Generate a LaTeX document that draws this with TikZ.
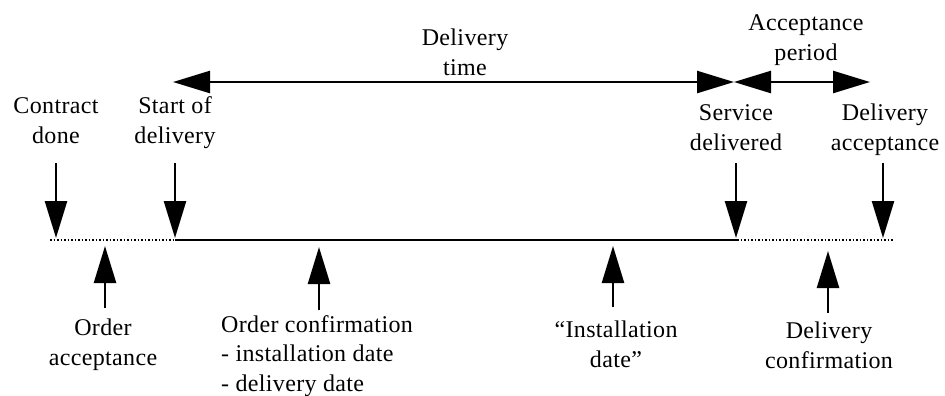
\documentclass[tikz,border=0pt]{standalone}
\usepackage{fontspec}
\setmainfont{Liberation Serif}[LetterSpace=1.5]
\usetikzlibrary{arrows.meta}
\begin{document}
\begin{tikzpicture}[x=1bp,y=-1bp,
  lbl/.style={font=\fontsize{24bp}{29.5bp}\selectfont, align=center, anchor=base, inner sep=0pt},
  lbll/.style={lbl, align=left, anchor=base west},
  ptr/.style={-{Triangle[length=37bp,width=22bp]}, line width=2.5bp},
  span/.style={{Triangle[length=37bp,width=22bp]}-{Triangle[length=37bp,width=22bp]}, line width=2.5bp},
  solidline/.style={line width=2.8bp},
  dotline/.style={line width=2bp, dash pattern=on 1.5bp off 2bp}]
\useasboundingbox (0,0) rectangle (945,395);

% timeline points
\coordinate (t0) at (50,240);
\coordinate (t1) at (175,240);
\coordinate (t2) at (737,240);
\coordinate (t3) at (893,240);
\draw[dotline] (t0) -- (t1);
\draw[solidline] (t1) -- (t2);
\draw[dotline] (t2) -- (t3);

% span arrows
\coordinate (sL) at (173,82);
\coordinate (sM) at (734,82);
\coordinate (sR) at (870,82);
\draw[span] (sL) -- (sM);
\draw[span] (sM) -- (sR);

% down arrows
\coordinate (dAs) at (56,163);  \coordinate (dAe) at (56,238);
\coordinate (dBs) at (175,163); \coordinate (dBe) at (175,238);
\coordinate (dCs) at (736,163); \coordinate (dCe) at (736,238);
\coordinate (dDs) at (883,163); \coordinate (dDe) at (883,238);
\draw[ptr] (dAs) -- (dAe);
\draw[ptr] (dBs) -- (dBe);
\draw[ptr] (dCs) -- (dCe);
\draw[ptr] (dDs) -- (dDe);

% up arrows
\coordinate (uAs) at (105,308); \coordinate (uAe) at (105,246);
\coordinate (uBs) at (319,310); \coordinate (uBe) at (319,247);
\coordinate (uCs) at (613,307); \coordinate (uCe) at (613,246);
\coordinate (uDs) at (828,313); \coordinate (uDe) at (828,251);
\draw[ptr] (uAs) -- (uAe);
\draw[ptr] (uBs) -- (uBe);
\draw[ptr] (uCs) -- (uCe);
\draw[ptr] (uDs) -- (uDe);

% labels (anchored at the baseline of the last line)
\node[lbl] (contract) at (56,143) {Contract\\done};
\node[lbl] (startdel) at (175,143) {Start of\\delivery};
\node[lbl] (servdel) at (736,150) {Service\\delivered};
\node[lbl] (delacc) at (885,150) {Delivery\\acceptance};
\node[lbl] (deltime) at (465,75) {Delivery\\time};
\node[lbl] (accper) at (806,60) {Acceptance\\period};
\node[lbl] (ordacc) at (103,365) {Order\\acceptance};
\node[lbll] (ordconf) at (221,391) {Order confirmation\\- installation date\\- delivery date};
\node[lbl] (instdate) at (616,367) {“Installation\\date”};
\node[lbl] (delconf) at (829,368) {Delivery\\confirmation};
\end{tikzpicture}
\end{document}
